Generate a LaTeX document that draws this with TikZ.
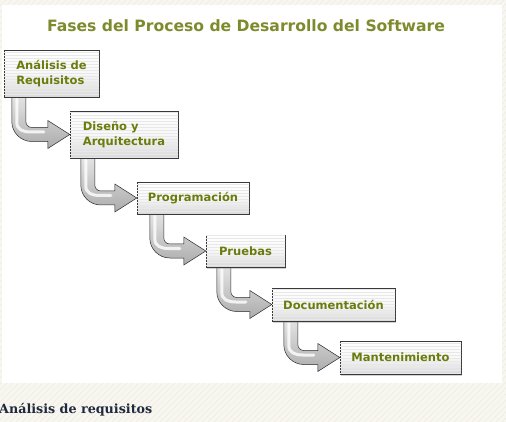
\documentclass[tikz,border=0pt]{standalone}
\usepackage{fontspec}
\setmainfont{DejaVu Sans}
\newfontfamily\boxfont{DejaVu Sans}
\newfontfamily\titlefont{DejaVu Sans}
\newfontfamily\serifbold{DejaVu Serif}
\usetikzlibrary{calc,shadows,patterns}
\definecolor{olive}{HTML}{6A7C0C}
\definecolor{titleolive}{HTML}{7E8B2D}
\definecolor{pagebg}{HTML}{F8F6F0}
\definecolor{hatch}{HTML}{EFEADF}
\definecolor{navy}{HTML}{1E2A3C}
\tikzset{
  phase/.style={draw=gray!45!black, line width=0.6pt,
    top color=white, bottom color=gray!30, middle color=gray!6,
    postaction={pattern=horizontal lines, pattern color=gray!18},
    drop shadow={shadow xshift=1.2pt, shadow yshift=-1.5pt, opacity=0.35},
    font=\boxfont\bfseries\fontsize{11.5}{15}\selectfont, text=olive,
    inner sep=0pt, align=left},
  arrowbody/.style={top color=gray!20, bottom color=gray!65,
    draw=gray!35!black, line width=0.5pt},
  arrowshadow/.style={fill=black, opacity=0.18},
  arrowshine/.style={draw=white, line width=3pt, opacity=0.8, line cap=round},
}
% #1 from node, #2 to node, #3 shaft offset from left of #1
\newcommand{\flowarrow}[3]{%
  \foreach \sx/\sy/\kind in {2pt/-2.5pt/arrowshadow, 0pt/0pt/arrowbody}{%
  \path[\kind, shift={(\sx,\sy)}] let \p1=(#1.south west), \p2=(#2.west),
    \n1={\x1+#3} in
    ({\n1-7pt},{\y1+3pt}) -- ({\n1-7pt},{\y2+13pt})
    .. controls ({\n1-7pt},{\y2+2pt}) and ({\n1+2pt},{\y2-7pt}) .. ({\n1+13pt},{\y2-7pt})
    -- ({\x2-22pt},{\y2-7pt}) -- ({\x2-22pt},{\y2-14pt}) -- (\x2,\y2)
    -- ({\x2-22pt},{\y2+14pt}) -- ({\x2-22pt},{\y2+7pt})
    -- ({\n1+13pt},{\y2+7pt})
    .. controls ({\n1+9.7pt},{\y2+7pt}) and ({\n1+7pt},{\y2+9.7pt}) .. ({\n1+7pt},{\y2+13pt})
    -- ({\n1+7pt},{\y1+3pt}) -- cycle;}
  \path[arrowshine] let \p1=(#1.south west), \p2=(#2.west),
    \n1={\x1+#3} in
    ({\n1-2pt},{\y1-2pt}) -- ({\n1-2pt},{\y2+12pt})
    .. controls ({\n1-2pt},{\y2+5pt}) and ({\n1+4pt},{\y2+2.5pt}) .. ({\n1+12pt},{\y2+2.5pt})
    -- ({\x2-26pt},{\y2+2.5pt});
}
\begin{document}
\begin{tikzpicture}[x=1pt,y=-1pt]
\useasboundingbox (0,0) rectangle (506,422);
\fill[pagebg] (0,0) rectangle (506,422);
\begin{scope}
\clip (0,0) rectangle (506,422);
\foreach \i in {-440,-434,...,520}
  \draw[hatch, line width=0.6pt] (\i,422) -- (\i+422,0);
\end{scope}
\fill[white] (2,5) rectangle (502,383);

% title
\node[font=\titlefont\bfseries\fontsize{15.6}{18}\selectfont, text=titleolive, anchor=base] (title) at (246,32) {Fases del Proceso de Desarrollo del Software};

\path
  (51.5,73.5) coordinate (c1)
  (124,134.5) coordinate (c2)
  (193,198) coordinate (c3)
  (245.5,251) coordinate (c4)
  (333.5,304.5) coordinate (c5)
  (400.5,357.5) coordinate (c6);
\path
  node[minimum width=95pt, minimum height=47pt] (b1) at (c1) {}
  node[minimum width=108pt, minimum height=47pt] (b2) at (c2) {}
  node[minimum width=112pt, minimum height=32pt] (b3) at (c3) {}
  node[minimum width=79pt, minimum height=32pt] (b4) at (c4) {}
  node[minimum width=123pt, minimum height=33pt] (b5) at (c5) {}
  node[minimum width=121pt, minimum height=33pt] (b6) at (c6) {};

\flowarrow{b1}{b2}{15pt}
\flowarrow{b2}{b3}{18pt}
\flowarrow{b3}{b4}{20pt}
\flowarrow{b4}{b5}{18pt}
\flowarrow{b5}{b6}{19pt}

\node[phase, minimum width=95pt, minimum height=47pt] (p1) at (c1) {Análisis de\\Requisitos};
\node[phase, minimum width=108pt, minimum height=47pt] (p2) at (c2) {Diseño y\\Arquitectura};
\node[phase, minimum width=112pt, minimum height=32pt] (p3) at (c3) {Programación};
\node[phase, minimum width=79pt, minimum height=32pt] (p4) at (c4) {Pruebas};
\node[phase, minimum width=123pt, minimum height=33pt] (p5) at (c5) {Documentación};
\node[phase, minimum width=121pt, minimum height=33pt] (p6) at (c6) {Mantenimiento};

% caption below
\node[font=\serifbold\bfseries\fontsize{12.7}{16}\selectfont, text=navy, anchor=base west, inner sep=0pt] (caption) at (-1,413) {Análisis de requisitos};
\end{tikzpicture}
\end{document}
